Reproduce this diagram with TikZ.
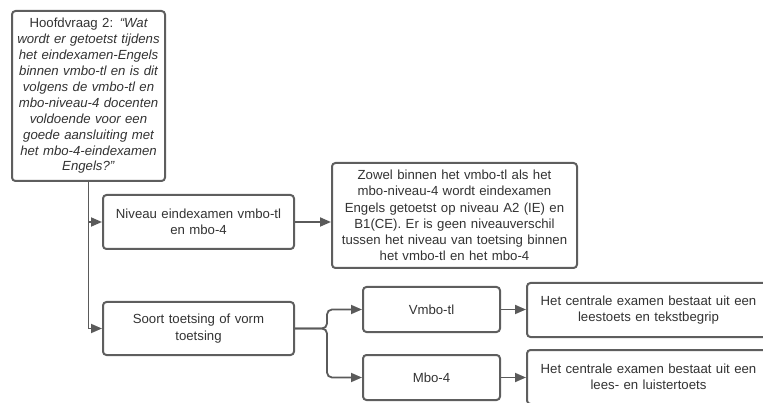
\documentclass[tikz,border=0pt]{standalone}
\usepackage{fontspec}
\setmainfont{Liberation Sans}
\usetikzlibrary{arrows.meta}
\definecolor{boxline}{HTML}{5E5E5E}
\definecolor{txt}{HTML}{333333}
\definecolor{conn}{HTML}{5A5A5A}
\begin{document}
\begin{tikzpicture}[x=1pt,y=-1pt,
  box/.style={draw=boxline,line width=2pt,rounded corners=3.5pt,fill=white,
    text=txt,align=center,inner sep=1pt,font=\fontsize{13.2}{16.2}\selectfont},
  conn/.style={draw=conn,line width=1.8pt,-{Triangle[length=11pt,width=9pt]}}]
\useasboundingbox (0,0) rectangle (763,403);
\clip (0,0) rectangle (763,403);
\node[box,minimum width=153pt,minimum height=170pt,text width=150pt,
  font=\fontsize{13.2}{15.9}\selectfont] (main) at (88.5,96)
  {Hoofdvraag 2: \textit{“Wat\\wordt er getoetst tijdens\\het eindexamen-Engels\\binnen vmbo-tl en is dit\\volgens de vmbo-tl en\\mbo-niveau-4 docenten\\voldoende voor een\\goede aansluiting met\\het mbo-4-eindexamen\\Engels?\symbol{34}}};
\node[box,minimum width=191pt,minimum height=54pt,text width=189pt] (niveau) at (198.5,222)
  {Niveau eindexamen vmbo-tl\\en mbo-4};
\node[box,minimum width=191pt,minimum height=53pt,text width=189pt] (soort) at (198.5,328.5)
  {Soort toetsing of vorm\\toetsing};
\node[box,minimum width=245pt,minimum height=105pt,text width=243pt] (zowel) at (454.5,215.5)
  {Zowel binnen het vmbo-tl als het\\mbo-niveau-4 wordt eindexamen\\Engels getoetst op niveau A2 (IE) en\\B1(CE). Er is geen niveauverschil\\tussen het niveau van toetsing binnen\\het vmbo-tl en het mbo-4};
\node[box,minimum width=137pt,minimum height=45pt] (vmbo) at (431.5,309.5) {Vmbo-tl};
\node[box,minimum width=137pt,minimum height=45pt] (mbo) at (431.5,377.5) {Mbo-4};
\node[box,minimum width=243pt,minimum height=54pt,text width=241pt] (r1) at (648.5,310)
  {Het centrale examen bestaat uit een\\leestoets en tekstbegrip};
\node[box,minimum width=243pt,minimum height=54pt,text width=241pt] (r2) at (648.5,377)
  {Het centrale examen bestaat uit een\\lees- en luistertoets};
\coordinate (split) at (327,328.5);
\draw[conn] (main.south) |- (niveau.west);
\draw[conn] (main.south) |- (soort.west);
\draw[conn] (niveau.east) -- (zowel.west |- niveau.east);
\draw[conn,rounded corners=5pt] (soort.east) -- (split) |- (vmbo.west);
\draw[conn,rounded corners=5pt] (soort.east) -- (split) |- (mbo.west);
\draw[conn] (vmbo.east) -- (r1.west |- vmbo.east);
\draw[conn] (mbo.east) -- (r2.west |- mbo.east);
\end{tikzpicture}
\end{document}
